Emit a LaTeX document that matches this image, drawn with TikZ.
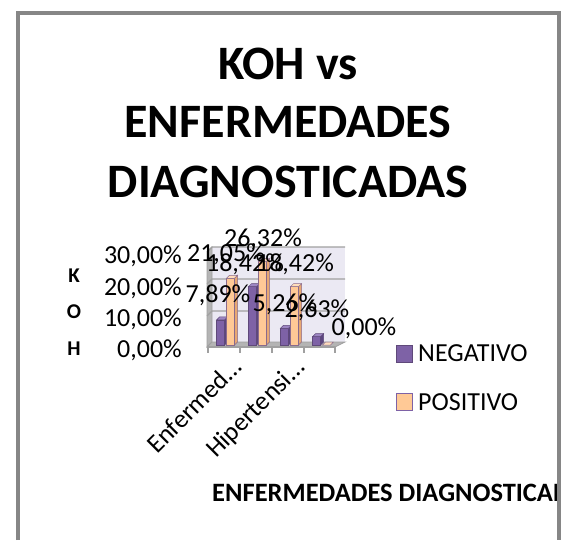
\documentclass[tikz,border=0pt]{standalone}
\usepackage{fontspec}
\setmainfont{Carlito}
\definecolor{negF}{HTML}{7E62A6}
\definecolor{negS}{HTML}{5C4680}
\definecolor{negT}{HTML}{9C85C2}
\definecolor{negE}{HTML}{5F497A}
\definecolor{posF}{HTML}{FFC996}
\definecolor{posS}{HTML}{E8A872}
\definecolor{posT}{HTML}{FFDDBB}
\definecolor{posE}{HTML}{8A6A8C}
\definecolor{wallB}{HTML}{EBE9F3}
\definecolor{wallS}{HTML}{B4B4B4}
\definecolor{gridc}{HTML}{A0A0A0}
\definecolor{framec}{HTML}{868686}
\newcommand\threedbar[3]{%
  \pgfmathsetmacro\yt{345-#2*3.17}%
  \filldraw[fill=#3S,draw=#3E,line width=0.5pt] (#1+8,345) -- (#1+11,342) -- (#1+11,\yt-3) -- (#1+8,\yt) -- cycle;
  \filldraw[fill=#3F,draw=#3E,line width=0.5pt] (#1,345) rectangle (#1+8,\yt);
  \filldraw[fill=#3T,draw=#3E,line width=0.5pt] (#1,\yt) -- (#1+3,\yt-3) -- (#1+11,\yt-3) -- (#1+8,\yt) -- cycle;
}
\begin{document}
\begin{tikzpicture}[x=1pt,y=-1pt,
  title/.style={font=\fontsize{48}{58}\selectfont\bfseries,anchor=base,inner sep=0pt},
  lbl/.style={font=\fontsize{26}{31}\selectfont,inner sep=0pt},
  axl/.style={font=\fontsize{21}{25}\selectfont\bfseries,anchor=base,inner sep=0pt},
  gridline/.style={draw=gridc,line width=1.3pt}]
\useasboundingbox (0,0) rectangle (564,540);
\fill[white] (0,0) rectangle (564,540);
% frame
\draw[framec,line width=4pt] (18,540) -- (18,13.5) -- (559,13.5) -- (559,540);
% title
\node[title] (t1) at (288,80) {KOH vs};
\node[title] (t2) at (288,137.5) {ENFERMEDADES};
\node[title] (t3) at (288,197) {DIAGNOSTICADAS};
% walls
\fill[wallB] (212,247) rectangle (345,342);
\filldraw[fill=wallS,draw=gridc,line width=0.8pt] (207,252) -- (212,247) -- (212,342) -- (207,347) -- cycle;
\filldraw[fill=wallS,draw=gridc,line width=0.8pt] (207,347) -- (212,342) -- (345,342) -- (335,347) -- cycle;
\foreach \g in {247,279,311}{
  \draw[gridline] (207,\g+5) -- (212,\g) -- (345,\g);
}
% front axis and ticks
\draw[gridline] (207,347) -- (335,347);
\foreach \tx in {208,240,272,304,335}{
  \draw[gridline] (\tx,347) -- (\tx,353);
}
% bars
\threedbar{216.5}{7.89}{neg}
\threedbar{226.5}{21.05}{pos}
\threedbar{248.5}{18.42}{neg}
\threedbar{258.5}{26.32}{pos}
\threedbar{280.5}{5.26}{neg}
\threedbar{290.5}{18.42}{pos}
\threedbar{312.5}{2.63}{neg}
\filldraw[fill=posT,draw=posE,line width=0.5pt] (322.5,345) -- (325.5,342) -- (333.5,342) -- (330.5,345) -- cycle;
% y axis labels
\node[lbl,anchor=base east] (y30) at (182,263.5) {30,00\%};
\node[lbl,anchor=base east] (y20) at (182,295.5) {20,00\%};
\node[lbl,anchor=base east] (y10) at (182,326.5) {10,00\%};
\node[lbl,anchor=base east] (y0) at (182,357.5) {0,00\%};
% axis title K O H
\node[axl] (ak) at (74,282) {K};
\node[axl] (ao) at (74,318) {O};
\node[axl] (ah) at (74,355) {H};
% data labels
\node[lbl,anchor=base] (d1) at (218,302.5) {7,89\%};
\node[lbl,anchor=base] (d2) at (226,261.5) {21,05\%};
\node[lbl,anchor=base] (d3) at (245,271.5) {18,42\%};
\node[lbl,anchor=base] (d4) at (263,246.5) {26,32\%};
\node[lbl,anchor=base] (d5) at (285,311.5) {5,26\%};
\node[lbl,anchor=base] (d6) at (295,271.5) {18,42\%};
\node[lbl,anchor=base] (d7) at (317,317.5) {2,63\%};
\node[lbl,anchor=base] (d8) at (364,335.5) {0,00\%};
% category labels
\node[lbl,anchor=base east,rotate=45] (c1) at (243,369) {Enfermed…};
\node[lbl,anchor=base east,rotate=45] (c3) at (306,369) {Hipertensi…};
% legend
\filldraw[fill=negF,draw=negE,line width=0.8pt] (396,345) rectangle (412,362);
\node[lbl,anchor=base west] (ln) at (418,361.5) {NEGATIVO};
\filldraw[fill=posF,draw=negF,line width=0.8pt] (396,393) rectangle (412,410);
\node[lbl,anchor=base west] (lp) at (418,410.5) {POSITIVO};
% x axis title (clipped)
\begin{scope}
\clip (0,0) rectangle (556,540);
\node[font=\fontsize{26.5}{31}\selectfont\bfseries,anchor=base west,inner sep=0pt] (xt) at (212,501) {ENFERMEDADES DIAGNOSTICADAS};
\end{scope}
\end{tikzpicture}
\end{document}
